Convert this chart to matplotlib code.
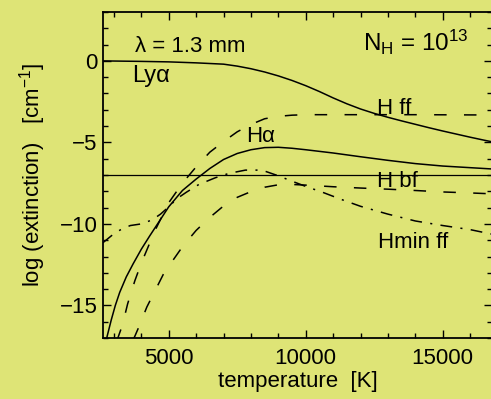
import matplotlib
matplotlib.use("Agg")
import matplotlib.pyplot as plt
from matplotlib.ticker import MultipleLocator

plt.rcParams["font.family"] = ["Liberation Sans", "DejaVu Sans"]
plt.rcParams["mathtext.fontset"] = "custom"
plt.rcParams["mathtext.rm"] = "Liberation Sans"
plt.rcParams["mathtext.default"] = "regular"
plt.rcParams["lines.scale_dashes"] = False

BG = "#dee476"

# Lyman alpha (solid)
lya_t = [2600, 4000, 5000, 6000, 7000, 7500, 8000, 8500, 9000, 9500, 10000,
         10500, 11000, 11500, 12000, 12500, 13000, 13500, 14000, 14500, 15000,
         15500, 16000, 16500, 17000]
lya_v = [0.0, -0.03, -0.06, -0.12, -0.2, -0.32, -0.48, -0.68, -0.92, -1.2, -1.52,
         -1.88, -2.27, -2.63, -2.95, -3.22, -3.46, -3.68, -3.89, -4.1, -4.3,
         -4.49, -4.68, -4.86, -5.03]

# H alpha (solid)
ha_t = [2700, 2750, 2900, 3050, 3210, 3450, 3700, 4000, 4300, 4670, 5000, 5500,
        6000, 6500, 7000, 7500, 8000, 8500, 9000, 9500, 10000, 11000, 12000,
        13000, 14000, 15000, 16000, 17000]
ha_v = [-17.3, -16.9, -15.9, -15.0, -14.2, -13.25, -12.45, -11.55, -10.75, -9.8,
        -8.95, -7.95, -7.25, -6.6, -6.05, -5.68, -5.45, -5.32, -5.3, -5.36, -5.45,
        -5.65, -5.88, -6.1, -6.3, -6.45, -6.55, -6.65]

# H free-free (dashed)
hff_t = [3100, 3310, 3500, 3760, 4000, 4250, 4500, 5000, 5500, 6000, 6500, 7000,
         7500, 8000, 8500, 9000, 9500, 10000, 12000, 14000, 17000]
hff_v = [-17.2, -16.2, -14.9, -13.5, -12.4, -11.4, -10.4, -8.7, -7.5, -6.5, -5.6,
         -4.95, -4.35, -3.9, -3.55, -3.4, -3.33, -3.3, -3.3, -3.3, -3.32]

# H bound-free (dashed)
hbf_t = [3700, 3760, 3940, 4200, 4500, 4800, 5000, 5500, 6000, 6500, 7000, 7500,
         8000, 8500, 9000, 9500, 10000, 11000, 12000, 13000, 14000, 15000, 16000,
         17000]
hbf_v = [-17.1, -16.9, -16.2, -15.1, -14.1, -13.1, -12.6, -11.4, -10.4, -9.6, -8.9,
         -8.37, -8.02, -7.75, -7.6, -7.58, -7.62, -7.72, -7.8, -7.87, -7.95, -8.04,
         -8.1, -8.17]

# H minus free-free (dash-dot)
hmin_t = [2600, 3000, 3300, 3600, 4000, 4400, 4700, 5000, 5300, 5650, 6100, 6700,
          7200, 7800, 8400, 9000, 9500, 10000, 10600, 11300, 12000, 13000, 14000,
          15000, 16000, 17000]
hmin_v = [-11.15, -10.6, -10.3, -10.1, -10.0, -9.75, -9.4, -8.95, -8.45, -8.05,
          -7.58, -7.17, -6.9, -6.7, -6.7, -7.05, -7.38, -7.7, -8.05, -8.5, -8.92,
          -9.4, -9.82, -10.1, -10.35, -10.7]

ref_level = -7.0

fig = plt.figure(figsize=(4.91, 3.99), dpi=100, facecolor=BG)
ax = fig.add_axes([103 / 491, 1 - 338 / 399, 389 / 491, 326 / 399])
ax.set_facecolor(BG)

dash = (0, (9, 12.5))
dashdot = (0, (8.5, 6, 1.5, 6))
lw = 1.1

ax.plot(lya_t, lya_v, color="k", lw=lw)
ax.plot(ha_t, ha_v, color="k", lw=lw)
ax.plot(hff_t, hff_v, color="k", lw=lw, linestyle=dash)
ax.plot(hbf_t, hbf_v, color="k", lw=lw, linestyle=dash)
ax.plot(hmin_t, hmin_v, color="k", lw=lw, linestyle=dashdot)
ax.axhline(ref_level, color="k", lw=0.9)

ax.set_xlim(2600, 16800)
ax.set_ylim(-17, 3)

ax.xaxis.set_major_locator(MultipleLocator(5000))
ax.xaxis.set_minor_locator(MultipleLocator(1000))
ax.yaxis.set_major_locator(MultipleLocator(5))
ax.yaxis.set_minor_locator(MultipleLocator(1))
ax.tick_params(which="both", direction="in", top=True, right=True,
               width=1.0, labelsize=16)
ax.tick_params(which="major", length=6)
ax.tick_params(which="minor", length=3.5)
ax.tick_params(axis="x", pad=7)
ax.tick_params(axis="y", pad=4)
for s in ax.spines.values():
    s.set_linewidth(1.3)

ax.set_xlabel("temperature  [K]", fontsize=16, labelpad=2)
ax.set_ylabel("log (extinction)   [cm$^{-1}$]", fontsize=16, labelpad=8)

ax.text(3768, 0.55, "λ = 1.3 mm", fontsize=16)
ax.text(3659, -1.29, "Lyα", fontsize=17)
ax.text(12093, 0.61, "N$_{H}$ = 10$^{13}$", fontsize=17.5)
ax.text(7810, -4.96, "Hα", fontsize=16)
ax.text(12600, -3.26, "H ff", fontsize=16)
ax.text(12600, -7.74, "H bf", fontsize=16)
ax.text(12640, -11.48, "Hmin ff", fontsize=16)

fig.savefig("out.png", dpi=100, facecolor=BG)
